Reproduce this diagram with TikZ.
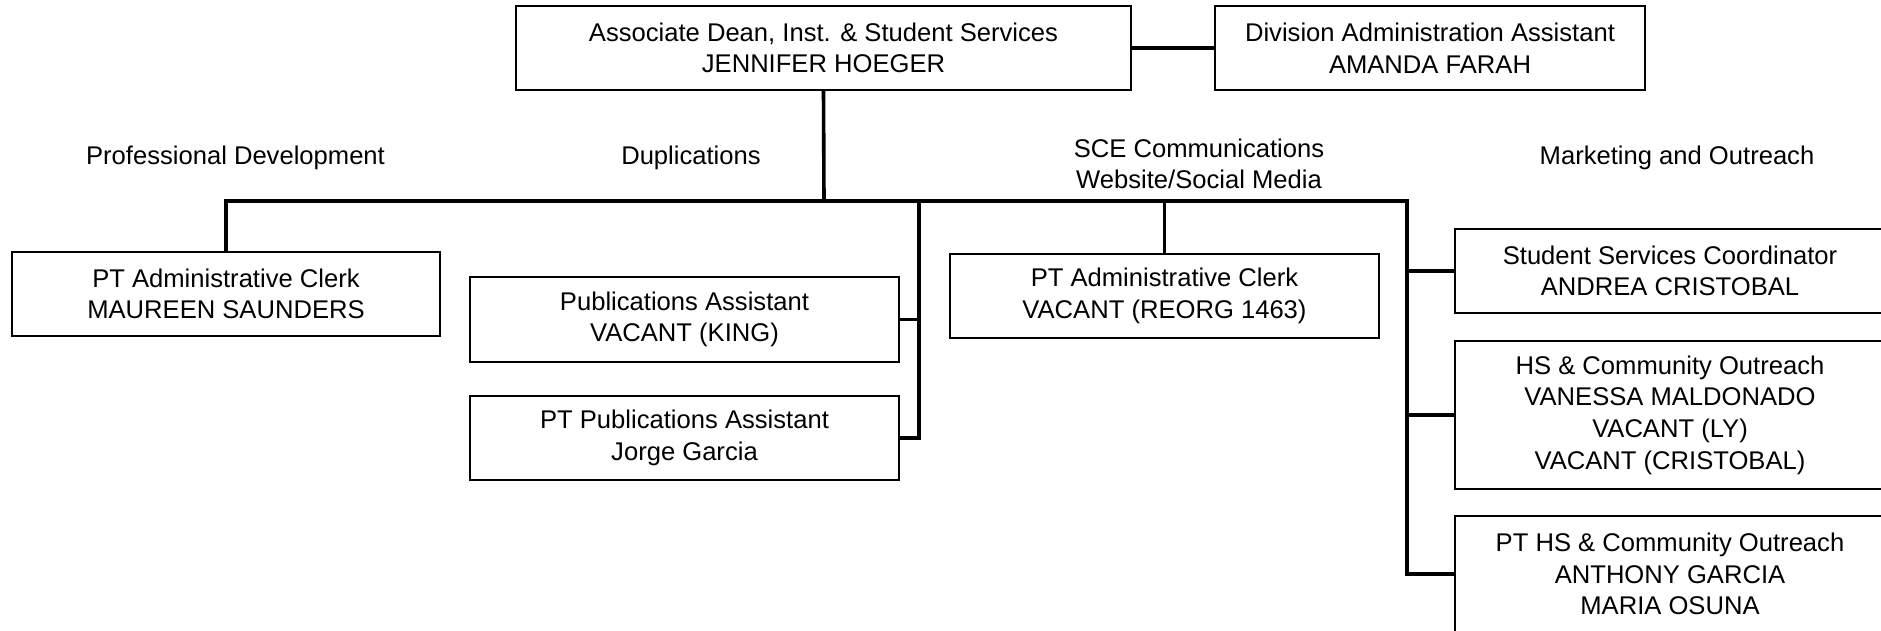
\documentclass[tikz,border=0pt]{standalone}
\usepackage{fontspec}
\setmainfont{Liberation Sans}
\begin{document}
\begin{tikzpicture}[x=0.5pt,y=-0.5pt,
  txt/.style={font=\fontsize{12.8}{15.8}\selectfont},
  box/.style 2 args={draw, line width=0.9pt, align=center, inner sep=0pt, txt,
    minimum width=#1*0.5pt, minimum height=#2*0.5pt},
  lbl/.style={align=center, inner sep=0pt, txt},
  conn/.style={line width=1.8pt}]
\useasboundingbox (0,0) rectangle (1881,631);
\fill[white] (0,0) rectangle (1881,631);
\clip (0,0) rectangle (1881,631);

% boxes
\node[box={615}{84}] (dean) at (823.5,48) {Associate Dean, Inst. \& Student Services\\JENNIFER HOEGER};
\node[box={430}{84}] (daa) at (1430,48) {Division Administration Assistant\\AMANDA FARAH};
\node[box={428}{84}] (pac1) at (226,294) {PT Administrative Clerk\\MAUREEN SAUNDERS};
\node[box={429}{85}] (pubA) at (684.5,319.5) {Publications Assistant\\VACANT (KING)};
\node[box={429}{84}] (ptpub) at (684.5,438) {PT Publications Assistant\\Jorge Garcia};
\node[box={429}{84}] (pac2) at (1164.5,296) {PT Administrative Clerk\\VACANT (REORG 1463)};
\node[box={430}{84}] (ssc) at (1670,271) {Student Services Coordinator\\ANDREA CRISTOBAL};
\node[box={430}{148}] (hs) at (1670,415) {HS \& Community Outreach\\VANESSA MALDONADO\\VACANT (LY)\\VACANT (CRISTOBAL)};
\node[box={430}{116}] (pths) at (1670,574) {PT HS \& Community Outreach\\ANTHONY GARCIA\\MARIA OSUNA};

% group labels
\node[lbl] (lpd) at (235.5,158) {Professional Development};
\node[lbl] (ldup) at (691,158) {Duplications};
\node[lbl] (lsce) at (1199,164) {SCE Communications\\Website/Social Media};
\node[lbl] (lmkt) at (1677,158) {Marketing and Outreach};

% junctions
\coordinate (bus) at (824,201);
\coordinate (dup) at (919,201);
\coordinate (mkt) at (1407,201);

% connectors
\draw[conn] (dean.east) -- (daa.west);
\draw[conn] (dean.south) -- (bus);
\draw[conn] (pac1.north) |- (mkt) |- (pths.west);
\draw[conn] (mkt) |- (ssc.west);
\draw[conn] (mkt) |- (hs.west);
\draw[conn] (dup) |- (ptpub.east);
\draw[conn] (dup) |- (pubA.east);
\draw[conn] (pac2.north) -- (pac2.north |- dup);
\end{tikzpicture}
\end{document}
